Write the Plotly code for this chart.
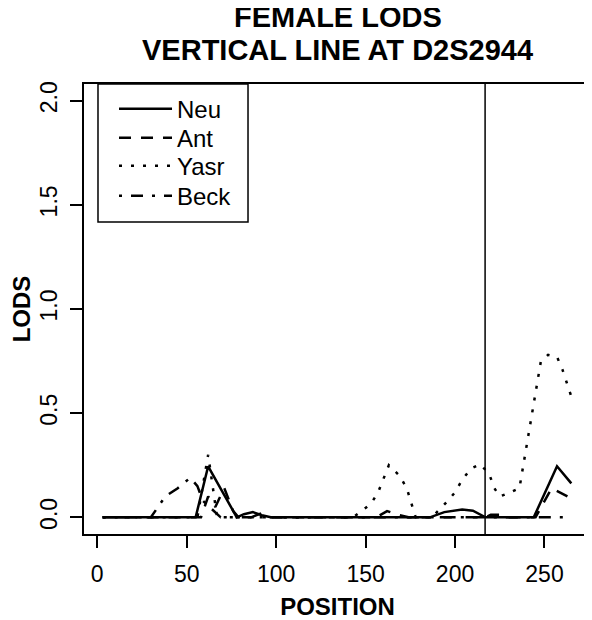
import plotly.graph_objects as go

# female LOD scores along the map (position in cM)
pos_neu = [3, 55, 62, 78, 82, 87, 92, 97, 186, 194, 204, 210, 217, 244, 257, 265]
lod_neu = [0, 0, 0.245, 0, 0.015, 0.025, 0.01, 0, 0, 0.025, 0.037, 0.032, 0, 0, 0.245, 0.163]

pos_ant = [3, 58, 62, 66, 71, 76, 79, 86, 92, 97, 156, 162, 169, 174,
           217, 220, 225, 229, 245, 254, 263]
lod_ant = [0, 0, 0.10, 0.05, 0.14, 0.03, 0, 0, 0.02, 0, 0, 0.03, 0.01, 0,
           0, 0.012, 0.012, 0, 0, 0.14, 0.10]

pos_yasr = [3, 56, 62, 67, 143, 153, 157, 163, 169, 173, 178, 187, 195, 200, 204,
            209, 214, 219, 222, 225, 231, 236, 248, 252, 257, 260, 265]
lod_yasr = [0, 0, 0.30, 0, 0, 0.065, 0.12, 0.25, 0.20, 0.14, 0, 0, 0.07, 0.12, 0.18,
            0.235, 0.255, 0.21, 0.14, 0.10, 0.12, 0.14, 0.75, 0.78, 0.77, 0.71, 0.58]

pos_beck = [3, 30, 38, 45, 52, 56, 59, 64, 69, 265]
lod_beck = [0, 0, 0.10, 0.14, 0.19, 0.15, 0.08, 0.04, 0, 0]

marker_pos = 216.8  # D2S2944

x_ticks = [0, 50, 100, 150, 200, 250]
y_ticks = [0.0, 0.5, 1.0, 1.5, 2.0]

title_lines = ["FEMALE LODS", "VERTICAL LINE AT D2S2944"]

FONT = "Liberation Sans, Arial, Helvetica, sans-serif"

# name, x, y, dash, legend id, legend y (one legend per entry so the rows sit tight)
series = [
    ("Neu", pos_neu, lod_neu, "solid", "legend", 0.9939),
    ("Ant", pos_ant, lod_ant, "12px,10px", "legend2", 0.9294),
    ("Yasr", pos_yasr, lod_yasr, "3px,9px", "legend3", 0.8672),
    ("Beck", pos_beck, lod_beck, "3px,9px,12px,9px", "legend4", 0.8006),
]

fig = go.Figure()
legends = {}
for name, x, y, dash, leg, ly in series:
    fig.add_trace(go.Scatter(x=x, y=y, name=name, mode="lines", legend=leg,
                             line=dict(color="black", width=2.5, dash=dash)))
    legends[leg] = dict(x=0.0592, y=ly, xanchor="left", yanchor="top",
                        bgcolor="rgba(0,0,0,0)", borderwidth=0, itemwidth=53,
                        font=dict(family=FONT, size=24, color="black"))

fig.add_vline(x=marker_pos, line=dict(color="black", width=1.5))

# legend box (R style)
fig.add_shape(type="rect", xref="paper", yref="paper",
              x0=0.0276, x1=0.3235, y0=0.6933, y1=1.0,
              line=dict(color="black", width=1.5))

# two title lines, tight R-like spacing
for text, shift in zip(title_lines, [84.8, 52.3]):
    fig.add_annotation(text=text, xref="paper", yref="paper",
                       x=0.5, y=1.0, yshift=shift, yanchor="top",
                       showarrow=False,
                       font=dict(family=FONT, size=29, color="black", weight="bold"))

axis_common = dict(showgrid=False, zeroline=False, showline=True, mirror=True,
                   linecolor="black", linewidth=1.5, ticks="outside", ticklen=12,
                   tickwidth=1.5, tickcolor="black", automargin=False,
                   tickfont=dict(family=FONT, size=23, color="black"))

fig.update_layout(
    width=584, height=612,
    margin=dict(l=76, r=1, t=76, b=86),
    plot_bgcolor="white", paper_bgcolor="white",
    font=dict(family=FONT, color="black"),
    xaxis=dict(range=[-7.4, 276], tickvals=x_ticks, ticklabelstandoff=7,
               title=dict(text="POSITION", standoff=14,
                          font=dict(family=FONT, size=24, weight="bold")),
               **axis_common),
    yaxis=dict(range=[-0.08, 2.08], tickvals=y_ticks, tickformat=".1f", tickangle=-90,
               ticklabelstandoff=4,
               title=dict(text="LODS", standoff=11,
                          font=dict(family=FONT, size=24, weight="bold")),
               **axis_common),
    showlegend=True,
    **legends,
)

fig.write_html("out.html")
